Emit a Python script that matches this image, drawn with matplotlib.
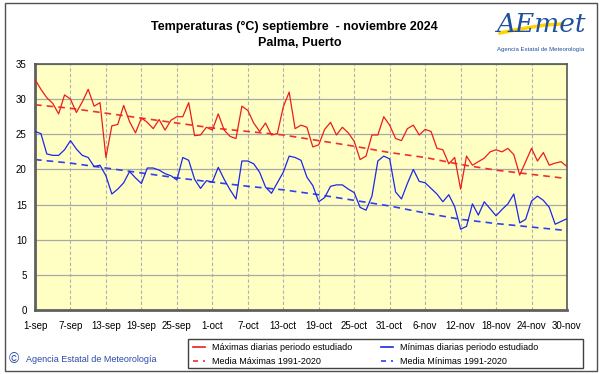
import matplotlib
matplotlib.use('Agg')
import matplotlib.pyplot as plt
from matplotlib.patches import Rectangle
from matplotlib.lines import Line2D

plt.rcParams['font.family'] = ['Liberation Sans', 'DejaVu Sans']

# Etiquetas del eje X (cada 6 dias)
etiquetas = ['1-sep', '7-sep', '13-sep', '19-sep', '25-sep', '1-oct', '7-oct', '13-oct',
             '19-oct', '25-oct', '31-oct', '6-nov', '12-nov', '18-nov', '24-nov', '30-nov']
pos_etiquetas = [0, 6, 12, 18, 24, 30, 36, 42, 48, 54, 60, 66, 72, 78, 84, 90]

# Maximas diarias (1-sep .. 30-nov)
tmax = [32.8, 31.4, 30.2, 29.4, 27.9, 30.6, 30.0, 28.1, 29.6, 31.4,
        29.0, 29.5, 21.7, 26.2, 26.4, 29.1, 26.8, 25.2, 27.3, 26.7,
        25.8, 27.1, 25.6, 27.0, 27.5, 27.5, 29.5, 24.8, 24.9, 26.0,
        25.6, 27.9, 25.6, 24.7, 24.4, 29.0, 28.4, 26.6, 25.4, 26.6,
        24.9, 25.1, 28.9, 31.0, 25.8, 26.3, 26.0, 23.2, 23.5, 25.7,
        26.7, 24.9, 26.0, 25.2, 24.0, 21.4, 21.9, 24.9, 24.9, 27.5,
        26.3, 24.4, 24.1, 25.8, 26.3, 24.9, 25.7, 25.4, 23.0, 22.8,
        20.8, 21.7, 17.2, 21.9, 20.6, 21.1, 21.6, 22.5, 22.8, 22.5,
        23.0, 22.1, 19.2, 21.1, 23.0, 21.2, 22.4, 20.6, 20.9, 21.1,
        20.4]

# Minimas diarias
tmin = [25.4, 25.1, 22.2, 22.0, 22.0, 22.8, 24.1, 22.9, 22.0, 21.7,
        20.4, 20.6, 19.1, 16.5, 17.2, 18.1, 19.7, 18.8, 18.0, 20.2,
        20.2, 19.9, 19.4, 19.1, 18.5, 21.7, 21.3, 18.6, 17.3, 18.4,
        18.2, 20.3, 18.6, 17.1, 15.8, 21.2, 21.2, 20.8, 19.6, 17.5,
        16.6, 18.1, 19.6, 21.9, 21.7, 21.3, 18.9, 17.7, 15.4, 16.0,
        17.6, 17.8, 17.8, 17.2, 16.7, 14.6, 14.2, 16.2, 21.2, 21.9,
        21.5, 16.8, 15.8, 18.0, 20.0, 18.3, 18.1, 17.3, 16.5, 15.4,
        16.4, 14.7, 11.5, 11.9, 15.1, 13.5, 15.4, 14.4, 13.4, 14.3,
        15.1, 16.5, 12.4, 12.9, 15.5, 16.2, 15.6, 14.6, 12.2, 12.6,
        13.0]

media_max = [29.2, 28.7, 28.0, 27.3, 26.6, 25.9, 25.4, 24.9,
             24.1, 23.3, 22.4, 21.7, 20.7, 19.9, 19.3, 18.7]
media_min = [21.4, 20.9, 20.2, 19.5, 18.8, 18.2, 17.6, 17.1,
             16.4, 15.6, 14.8, 13.8, 12.9, 12.3, 11.8, 11.3]

dias = list(range(len(tmax)))

W, H = 601, 374
fig = plt.figure(figsize=(W / 100, H / 100), dpi=100)
fig.patch.set_facecolor('white')

# marco exterior
fig.add_artist(Rectangle((5 / W, 1 - 371 / H), 592 / W, 368 / H, transform=fig.transFigure,
                         fill=False, edgecolor='#505050', lw=1))

ax = fig.add_axes([35 / W, 1 - 310 / H, 532 / W, 246 / H])
ax.set_facecolor('#ffffc4')

ax.plot(dias, tmax, color='#ee1c1c', lw=0.9, zorder=3)
ax.plot(dias, tmin, color='#1c28e8', lw=0.9, zorder=3)
ax.plot(pos_etiquetas, media_max, color='#f03030', lw=1.2, ls=(0, (4, 3)), zorder=2)
ax.plot(pos_etiquetas, media_min, color='#3040f0', lw=1.2, ls=(0, (4, 3)), zorder=2)

ax.set_xlim(0, 90)
ax.set_ylim(0, 35)
ax.set_yticks(range(0, 36, 5))
ax.set_xticks(pos_etiquetas)
ax.set_xticklabels(etiquetas)
ax.tick_params(axis='both', length=0, labelsize=7, colors='black')
ax.tick_params(axis='x', pad=8)
ax.tick_params(axis='y', pad=6)

ax.grid(axis='y', color='#a8a8a8', lw=0.9, ls='-')
ax.grid(axis='x', color='#b0b0b0', lw=0.8, ls=(0, (3, 2)))
ax.set_axisbelow(True)

for s in ['top', 'right']:
    ax.spines[s].set_color('#505a50')
    ax.spines[s].set_linewidth(1.2)
for s in ['left', 'bottom']:
    ax.spines[s].set_color('#606060')
    ax.spines[s].set_linewidth(2)

# titulos
fig.text(294 / W, 1 - 27 / H, 'Temperaturas (°C) septiembre  - noviembre 2024',
         ha='center', va='center', fontsize=9, fontweight='bold')
fig.text(300 / W, 1 - 43 / H, 'Palma, Puerto', ha='center', va='center',
         fontsize=9, fontweight='bold')

# logo aproximado
fig.add_artist(Line2D([500 / W, 520 / W, 545 / W, 562 / W],
                      [1 - 33 / H, 1 - 29 / H, 1 - 25 / H, 1 - 24 / H],
                      transform=fig.transFigure, color='#ffd200', lw=2.5))
fig.text(541 / W, 1 - 24 / H, 'AEmet', ha='center', va='center', fontsize=19,
         style='italic', color='#1f4f9f', family='DejaVu Serif')
fig.text(541 / W, 1 - 49 / H, 'Agencia Estatal de Meteorología', ha='center', va='center',
         fontsize=4.3, color='#1f4f9f')

# pie
fig.text(9 / W, 1 - 359 / H, '©', ha='left', va='center', fontsize=10, color='#2a4aa8')
fig.text(26 / W, 1 - 359 / H, 'Agencia Estatal de Meteorología', ha='left', va='center',
         fontsize=6.5, color='#2a4aa8')

# leyenda
fig.add_artist(Rectangle((188 / W, 1 - 368 / H), 395 / W, 29 / H, transform=fig.transFigure,
                         fill=False, edgecolor='#404040', lw=1))
filas = [(347, 193, 205, 'Máximas diarias periodo estudiado', '#ee1c1c', '-'),
         (361, 193, 205, 'Media Máximas 1991-2020', '#f03030', (0, (3, 3))),
         (347, 381, 393, 'Mínimas diarias periodo estudiado', '#1c28e8', '-'),
         (361, 381, 393, 'Media Mínimas 1991-2020', '#3040f0', (0, (3, 3)))]
for y, x0, x1, txt, col, ls in filas:
    fig.add_artist(Line2D([x0 / W, x1 / W], [1 - y / H, 1 - y / H], transform=fig.transFigure,
                          color=col, lw=1.2, ls=ls))
    fig.text((x1 + 7) / W, 1 - y / H, txt, ha='left', va='center', fontsize=6.5)

fig.savefig('out.png', dpi=100)
